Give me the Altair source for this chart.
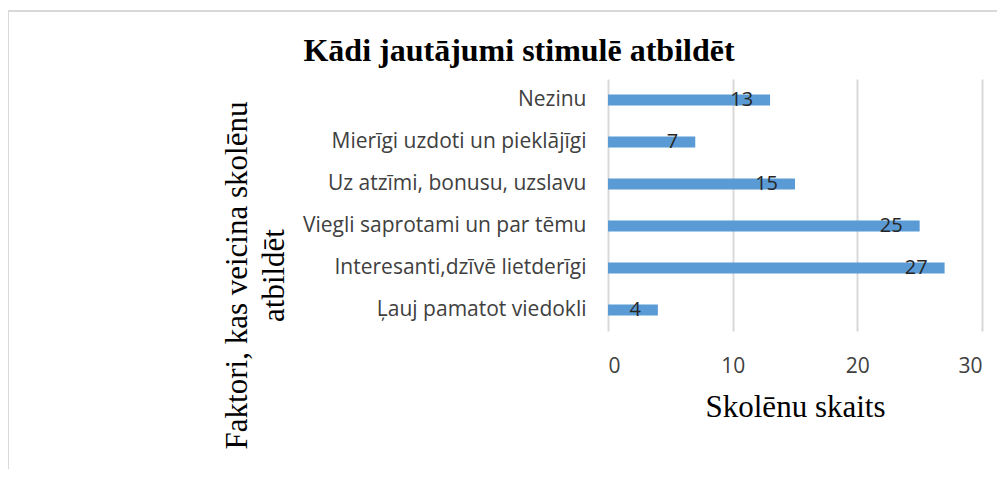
import altair as alt
import pandas as pd

categories = [
    "Nezinu",
    "Mierīgi uzdoti un pieklājīgi",
    "Uz atzīmi, bonusu, uzslavu",
    "Viegli saprotami un par tēmu",
    "Interesanti,dzīvē  lietderīgi",
    "Ļauj pamatot viedokli",
]
values = [13, 7, 15, 25, 27, 4]

df = pd.DataFrame({"cat": categories, "val": values})

W, H = 374, 252
PL, PT, PR = 600, 71, 15
PB = 461 - PT - H

SANS = "Open Sans"

y_enc = alt.Y(
    "cat:N",
    sort=categories,
    title=["Faktori, kas veicina skolēnu", "atbildēt"],
    axis=alt.Axis(
        domain=False,
        ticks=False,
        labelFont=SANS,
        labelFontSize=21,
        labelColor="#404040",
        labelPadding=22,
        labelLimit=400,
        titleFont="Liberation Serif",
        titleFontSize=31,
        titleFontWeight="normal",
        titleColor="#000000",
        titleAngle=270,
        titleX=-355,
        titleY=196,
        titleAlign="center",
        titleLineHeight=37,
    ),
)
x_enc = alt.X(
    "val:Q",
    scale=alt.Scale(domain=[0, 30]),
    title="Skolēnu skaits",
    axis=alt.Axis(
        values=[0, 10, 20, 30],
        domain=False,
        ticks=False,
        grid=True,
        gridColor="#d9d9d9",
        gridWidth=2,
        labelFont=SANS,
        labelFontSize=21,
        labelColor="#404040",
        labelPadding=24,
        titleFont="Liberation Serif",
        titleFontSize=31,
        titleFontWeight="normal",
        titleColor="#000000",
        titlePadding=16,
    ),
)

bars = alt.Chart(df).mark_bar(size=11, color="#5B9BD5").encode(x=x_enc, y=y_enc)
labels = alt.Chart(df).mark_text(
    align="right", dx=-17, font=SANS, fontSize=20, color="#262626", baseline="middle"
).encode(x="val:Q", y=alt.Y("cat:N", sort=categories), text="val:Q")

frame_df = pd.DataFrame({"k": [0]})
frame = alt.Chart(frame_df).mark_rect(
    fill="transparent", stroke="#d9d9d9", strokeWidth=2, clip=False
).encode(
    x=alt.value(-600), x2=alt.value(W + PR + 20), y=alt.value(-68), y2=alt.value(H + PB + 20)
)

chart = (
    alt.layer(frame, bars, labels)
    .properties(
        width=W,
        height=H,
        autosize=alt.AutoSizeParams(type="none"),
        padding={"left": PL, "top": PT, "right": PR, "bottom": PB},
        title=alt.TitleParams(
            "Kādi jautājumi  stimulē atbildēt",
            font="Liberation Serif",
            fontSize=32,
            fontWeight="bold",
            color="#000000",
            anchor="middle",
            frame="group",
            dx=-276,
            dy=72,
            offset=14,
        ),
    )
    .configure_view(stroke=None)
)

chart.save("out.html", embed_options={"renderer": "svg", "actions": False})
